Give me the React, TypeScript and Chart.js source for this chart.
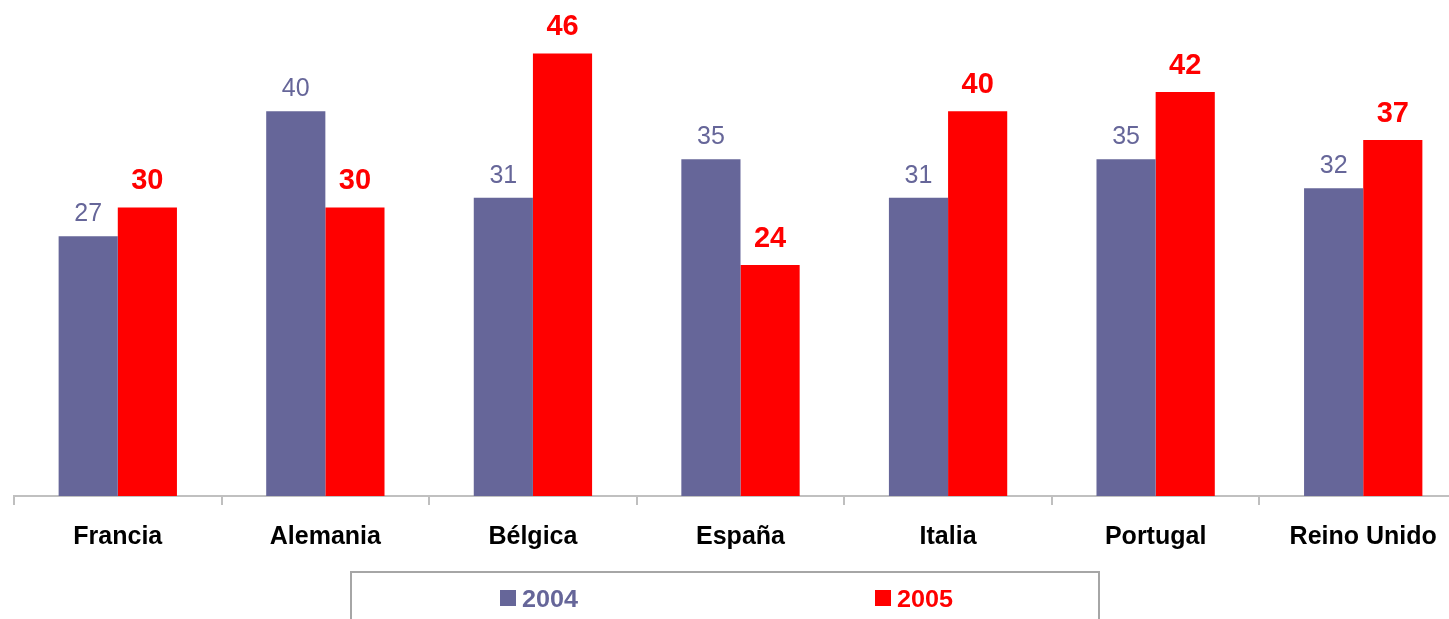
import React, { useEffect, useRef } from "react";
import { Chart, registerables } from "chart.js";

Chart.register(...registerables);

const categories = ["Francia", "Alemania", "Bélgica", "España", "Italia", "Portugal", "Reino Unido"];
const values2004 = [27, 40, 31, 35, 31, 35, 32];
const values2005 = [30, 30, 46, 24, 40, 42, 37];
const seriesNames = ["2004", "2005"];
const seriesColors = ["#666699", "#FF0000"];

const FONT = "'Liberation Sans', Arial, Helvetica, sans-serif";

const labelPlugin = {
  id: "valueLabels",
  afterDatasetsDraw(chart: any) {
    const ctx = chart.ctx;
    ctx.save();
    ctx.textAlign = "center";
    ctx.textBaseline = "alphabetic";
    chart.data.datasets.forEach((ds: any, di: number) => {
      const meta = chart.getDatasetMeta(di);
      meta.data.forEach((bar: any, i: number) => {
        if (di === 0) {
          ctx.font = `normal 25px ${FONT}`;
          ctx.fillStyle = seriesColors[0];
          ctx.fillText(String(ds.data[i]), bar.x, bar.y - 15);
        } else {
          ctx.font = `bold 29px ${FONT}`;
          ctx.fillStyle = seriesColors[1];
          ctx.fillText(String(ds.data[i]), bar.x, bar.y - 18);
        }
      });
    });
    ctx.restore();
  },
};

const legendPlugin = {
  id: "boxLegend",
  afterDraw(chart: any) {
    const ctx = chart.ctx;
    ctx.save();
    ctx.strokeStyle = "#a6a6a6";
    ctx.lineWidth = 2;
    ctx.strokeRect(351, 572, 748, 60);
    const items = [
      { x: 500, name: seriesNames[0], color: seriesColors[0] },
      { x: 875, name: seriesNames[1], color: seriesColors[1] },
    ];
    ctx.font = `bold 24px ${FONT}`;
    ctx.textBaseline = "alphabetic";
    ctx.textAlign = "left";
    items.forEach((it) => {
      ctx.fillStyle = it.color;
      ctx.fillRect(it.x, 590, 16, 16);
      ctx.save();
      ctx.translate(it.x + 22, 607);
      ctx.scale(1.05, 1);
      ctx.fillText(it.name, 0, 0);
      ctx.restore();
    });
    ctx.restore();
  },
};

export default function App() {
  const ref = useRef<HTMLCanvasElement | null>(null);
  useEffect(() => {
    if (!ref.current) return;
    const chart = new Chart(ref.current, {
      type: "bar",
      data: {
        labels: categories,
        datasets: [
          { label: seriesNames[0], data: values2004, backgroundColor: seriesColors[0], borderWidth: 0 },
          { label: seriesNames[1], data: values2005, backgroundColor: seriesColors[1], borderWidth: 0 },
        ],
      },
      options: {
        responsive: false,
        animation: false,
        devicePixelRatio: 1,
        layout: { padding: { left: 14, right: 3, top: 15, bottom: 0 } },
        datasets: { bar: { barPercentage: 1, categoryPercentage: 0.57 } },
        plugins: { legend: { display: false }, tooltip: { enabled: false } },
        scales: {
          x: {
            grid: { drawOnChartArea: false, color: "#bfbfbf", tickLength: 9, lineWidth: 2, offset: true },
            border: { color: "#c0c0c0", width: 2 },
            ticks: {
              color: "#000000",
              padding: 17,
              font: { family: FONT, size: 25, weight: "bold" },
              maxRotation: 0,
              autoSkip: false,
            },
            afterFit: (scale: any) => {
              scale.height = 123;
            },
          },
          y: {
            display: false,
            min: 0,
            max: 50,
          },
        },
      },
      plugins: [labelPlugin, legendPlugin],
    });
    return () => chart.destroy();
  }, []);
  return (
    <div style={{ position: "absolute", left: 0, top: 0, width: 1449, height: 619, overflow: "hidden", background: "#fff" }}>
      <canvas ref={ref} width={1470} height={619} style={{ display: "block", width: 1470, height: 619 }} />
    </div>
  );
}
